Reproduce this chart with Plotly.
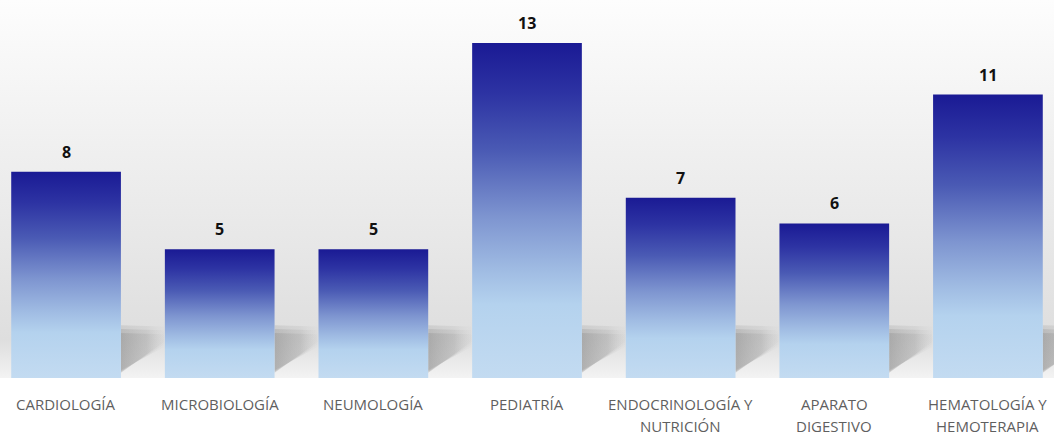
import plotly.graph_objects as go

categories = ["CARDIOLOGÍA", "MICROBIOLOGÍA", "NEUMOLOGÍA", "PEDIATRÍA",
              "ENDOCRINOLOGÍA Y\nNUTRICIÓN", "APARATO\nDIGESTIVO", "HEMATOLOGÍA Y\nHEMOTERAPIA"]
values = [8, 5, 5, 13, 7, 6, 11]

BAR_W = 0.714
X_MIN, X_MAX = -0.43, 6.43
Y_MAX = 14.67

bar_scale = [[0, "#c3dbf1"], [0.22, "#b4d2ee"], [0.32, "#a0bce3"], [0.48, "#7e95d0"],
             [0.68, "#4a5ab4"], [0.85, "#2d33a3"], [1, "#1a1a94"]]
bg_scale = [[0, "#f3f3f3"], [0.1, "#dedede"], [0.35, "#e7e7e7"], [0.65, "#f1f1f1"], [1, "#fdfdfd"]]

fig = go.Figure()

# background gradient
fig.add_trace(go.Scatter(
    x=[X_MIN, X_MAX, X_MAX, X_MIN, X_MIN], y=[0, 0, Y_MAX, Y_MAX, 0],
    fill="toself", mode="lines", line=dict(width=0),
    fillgradient=dict(type="vertical", colorscale=bg_scale),
    hoverinfo="skip", showlegend=False))

# soft floor shadows (layered for a blurred look)
gap = 1 - BAR_W
shadow_layers = [
    (0.00, 0.20, 0.10, 0.22),
    (0.05, 0.10, 0.05, 0.28),
    (0.10, 0.00, 0.00, 0.35),
]
for i, v in enumerate(values):
    xr = i + BAR_W / 2
    for grow_y, grow_top, grow_bot, alpha in shadow_layers:
        fig.add_trace(go.Scatter(
            x=[xr, xr, xr + gap * 0.98, xr + gap * 0.98, xr],
            y=[0.2 + grow_bot, 1.85 + grow_top - grow_y, 1.8 + grow_top - grow_y,
               1.3 - grow_bot + grow_y, 0.2 + grow_bot],
            fill="toself", mode="lines", line=dict(width=0),
            fillgradient=dict(type="horizontal",
                              colorscale=[[0, f"rgba(140,140,140,{alpha})"],
                                          [0.6, f"rgba(165,165,165,{alpha * 0.8})"],
                                          [1, f"rgba(200,200,200,{alpha * 0.3})"]]),
            hoverinfo="skip", showlegend=False))

# bars
for i, v in enumerate(values):
    xl, xr = i - BAR_W / 2, i + BAR_W / 2
    fig.add_trace(go.Scatter(
        x=[xl, xr, xr, xl, xl], y=[0, 0, v, v, 0],
        fill="toself", mode="lines", line=dict(width=0),
        fillgradient=dict(type="vertical", colorscale=bar_scale),
        hoverinfo="skip", showlegend=False))
    fig.add_annotation(x=i, y=v, text=f"<b>{v}</b>", showarrow=False,
                       yanchor="bottom", yshift=7,
                       font=dict(family="Open Sans", size=16, color="#111111"))

# category labels
for i, c in enumerate(categories):
    for j, line in enumerate(c.split("\n")):
        fig.add_annotation(x=i, y=0, text=line, showarrow=False,
                           yanchor="middle", yshift=-26 - 22 * j,
                           font=dict(family="Open Sans", size=15, color="#5f5f5f"))

fig.update_layout(
    width=1054, height=436,
    margin=dict(l=0, r=0, t=0, b=58),
    paper_bgcolor="white", plot_bgcolor="white",
    xaxis=dict(range=[X_MIN, X_MAX], visible=False, fixedrange=True),
    yaxis=dict(range=[0, Y_MAX], visible=False, fixedrange=True),
    showlegend=False,
)

fig.write_html("out.html", config={"displayModeBar": False},
               post_script="document.body.style.margin='0';document.body.style.overflow='hidden';")
